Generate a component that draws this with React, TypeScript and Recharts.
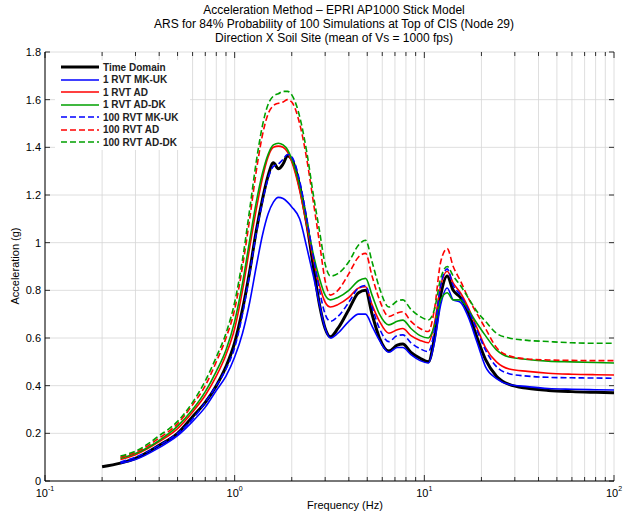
import React from "react";
import { LineChart, Line, XAxis, YAxis, CartesianGrid } from "recharts";

// frequency points (Hz)
const FREQ = [0.2, 0.25, 0.3, 0.4, 0.5, 0.6, 0.7, 0.8, 0.9, 1.0, 1.1, 1.2, 1.3, 1.4, 1.5, 1.6, 1.7, 1.8, 1.9, 2.0, 2.2, 2.4, 2.6, 2.8, 3.0, 3.2, 3.5, 4.0, 4.5, 4.9, 5.3, 5.8, 6.5, 7.2, 7.7, 8.5, 9.5, 10.5, 11.3, 12.2, 13.2, 14.2, 15.5, 17, 19, 21, 24, 28, 35, 45, 60, 80, 100];

const TIME_DOMAIN = [0.06, 0.075, 0.095, 0.15, 0.2, 0.27, 0.33, 0.4, 0.48, 0.58, 0.72, 0.88, 1.05, 1.18, 1.28, 1.335, 1.31, 1.33, 1.365, 1.35, 1.24, 1.08, 0.9, 0.74, 0.64, 0.605, 0.64, 0.72, 0.79, 0.8, 0.7, 0.6, 0.545, 0.57, 0.575, 0.54, 0.515, 0.5, 0.6, 0.78, 0.86, 0.8, 0.77, 0.71, 0.6, 0.51, 0.44, 0.405, 0.389, 0.38, 0.375, 0.372, 0.37];
const RVT1_MKUK = [null, 0.075, 0.09, 0.14, 0.19, 0.25, 0.31, 0.38, 0.44, 0.52, 0.62, 0.75, 0.9, 1.03, 1.12, 1.17, 1.19, 1.185, 1.17, 1.15, 1.1, 0.98, 0.86, 0.74, 0.64, 0.6, 0.62, 0.67, 0.7, 0.7, 0.65, 0.59, 0.54, 0.56, 0.56, 0.53, 0.505, 0.495, 0.58, 0.74, 0.81, 0.76, 0.75, 0.69, 0.58, 0.48, 0.43, 0.405, 0.396, 0.388, 0.385, 0.383, 0.382];
const RVT1_AD = [null, 0.09, 0.11, 0.165, 0.22, 0.29, 0.36, 0.44, 0.53, 0.64, 0.8, 0.98, 1.14, 1.27, 1.36, 1.4, 1.405, 1.4, 1.38, 1.34, 1.22, 1.07, 0.93, 0.82, 0.75, 0.73, 0.74, 0.77, 0.81, 0.815, 0.74, 0.67, 0.62, 0.635, 0.64, 0.61, 0.59, 0.58, 0.66, 0.82, 0.88, 0.83, 0.79, 0.73, 0.64, 0.56, 0.5, 0.47, 0.46, 0.452, 0.448, 0.446, 0.445];
const RVT1_ADDK = [null, 0.095, 0.115, 0.17, 0.23, 0.3, 0.375, 0.46, 0.55, 0.67, 0.83, 1.01, 1.17, 1.29, 1.37, 1.41, 1.417, 1.41, 1.39, 1.35, 1.24, 1.09, 0.95, 0.85, 0.78, 0.76, 0.77, 0.8, 0.84, 0.85, 0.78, 0.7, 0.655, 0.67, 0.675, 0.64, 0.61, 0.6, 0.65, 0.76, 0.79, 0.76, 0.76, 0.72, 0.66, 0.61, 0.55, 0.52, 0.51, 0.503, 0.5, 0.497, 0.495];
const RVT100_MKUK = [null, 0.08, 0.1, 0.15, 0.2, 0.26, 0.33, 0.4, 0.47, 0.56, 0.7, 0.87, 1.04, 1.17, 1.27, 1.32, 1.33, 1.35, 1.37, 1.36, 1.26, 1.1, 0.94, 0.8, 0.7, 0.67, 0.69, 0.75, 0.81, 0.82, 0.73, 0.64, 0.585, 0.61, 0.613, 0.58, 0.555, 0.543, 0.63, 0.82, 0.89, 0.82, 0.78, 0.72, 0.63, 0.55, 0.48, 0.45, 0.44, 0.435, 0.433, 0.432, 0.431];
const RVT100_AD = [null, 0.1, 0.12, 0.18, 0.24, 0.32, 0.4, 0.5, 0.6, 0.72, 0.9, 1.1, 1.3, 1.45, 1.54, 1.575, 1.585, 1.59, 1.6, 1.59, 1.5, 1.35, 1.17, 1.0, 0.84, 0.78, 0.8, 0.87, 0.94, 0.955, 0.86, 0.76, 0.69, 0.705, 0.71, 0.67, 0.64, 0.627, 0.72, 0.92, 0.975, 0.9, 0.84, 0.77, 0.7, 0.64, 0.56, 0.525, 0.512, 0.508, 0.506, 0.505, 0.505];
const RVT100_ADDK = [null, 0.105, 0.125, 0.19, 0.25, 0.33, 0.42, 0.52, 0.62, 0.75, 0.93, 1.14, 1.34, 1.49, 1.58, 1.615, 1.625, 1.635, 1.635, 1.62, 1.53, 1.38, 1.2, 1.05, 0.91, 0.86, 0.87, 0.92, 0.99, 1.01, 0.92, 0.81, 0.73, 0.755, 0.76, 0.72, 0.69, 0.676, 0.72, 0.85, 0.9, 0.86, 0.82, 0.77, 0.71, 0.67, 0.62, 0.6, 0.59, 0.585, 0.58, 0.578, 0.578];

const SERIES_NAMES = ["Time Domain", "1 RVT MK-UK", "1 RVT AD", "1 RVT AD-DK", "100 RVT MK-UK", "100 RVT AD", "100 RVT AD-DK"];
const SERIES_VALUES = [TIME_DOMAIN, RVT1_MKUK, RVT1_AD, RVT1_ADDK, RVT100_MKUK, RVT100_AD, RVT100_ADDK];
const SERIES_COLORS = ["#000000", "#0000ff", "#ff0000", "#00a000", "#0000ff", "#ff0000", "#00a000"];
const SERIES_DASHED = [false, false, false, false, true, true, true];
const SERIES_WIDTH = [3, 1.6, 1.6, 1.6, 1.6, 1.6, 1.6];

const X_TICKS = [0.1, 0.2, 0.3, 0.4, 0.5, 0.6, 0.7, 0.8, 0.9, 1, 2, 3, 4, 5, 6, 7, 8, 9, 10, 20, 30, 40, 50, 60, 70, 80, 90, 100];
const X_DECADES = [0.1, 1, 10, 100];
const X_EXPONENTS = ["-1", "0", "1", "2"];
const Y_TICKS = [0, 0.2, 0.4, 0.6, 0.8, 1, 1.2, 1.4, 1.6, 1.8];
const Y_TICK_LABELS = ["0", "0.2", "0.4", "0.6", "0.8", "1", "1.2", "1.4", "1.6", "1.8"];

const TITLE = [
  "Acceleration Method \u2013 EPRI AP1000 Stick Model",
  "ARS for 84% Probability of 100 Simulations at Top of CIS (Node 29)",
  "Direction X Soil Site (mean of Vs = 1000 fps)",
];

const FONT = "Arial, 'Liberation Sans', Helvetica, sans-serif";
const W = 632;
const H = 519;
const PLOT_LEFT = 45;
const PLOT_RIGHT = 614;
const PLOT_TOP = 52;
const PLOT_BOTTOM = 481;

const data = FREQ.map((f, i) => {
  const row: any = { f };
  SERIES_VALUES.forEach((vals, k) => {
    row["s" + k] = vals[i];
  });
  return row;
});

const XTick = (props: any) => {
  const { x, payload } = props;
  const v = payload.value;
  const d = X_DECADES.indexOf(v);
  const len = d >= 0 ? 6 : 4;
  return (
    <g>
      <line x1={x} x2={x} y1={PLOT_BOTTOM} y2={PLOT_BOTTOM - len} stroke="#000" strokeWidth={0.8} />
      <line x1={x} x2={x} y1={PLOT_TOP} y2={PLOT_TOP + len} stroke="#000" strokeWidth={0.8} />
      {d >= 0 && (
        <text x={x} y={PLOT_BOTTOM + 16} textAnchor="middle" fontSize={11} fontFamily={FONT} fill="#000">
          10
          <tspan dy={-6} fontSize={7}>
            {X_EXPONENTS[d]}
          </tspan>
        </text>
      )}
    </g>
  );
};

const YTick = (props: any) => {
  const { y, payload } = props;
  const i = Y_TICKS.indexOf(payload.value);
  return (
    <g>
      <line x1={PLOT_LEFT} x2={PLOT_LEFT + 5} y1={y} y2={y} stroke="#000" strokeWidth={0.8} />
      <line x1={PLOT_RIGHT} x2={PLOT_RIGHT - 5} y1={y} y2={y} stroke="#000" strokeWidth={0.8} />
      <text x={PLOT_LEFT - 4} y={y + 4} textAnchor="end" fontSize={11} fontFamily={FONT} fill="#000">
        {Y_TICK_LABELS[i]}
      </text>
    </g>
  );
};

export default function App() {
  return (
    <div style={{ position: "absolute", left: 0, top: 0, width: W, height: H, background: "#fff", fontFamily: FONT }}>
      {TITLE.map((t, i) => (
        <div
          key={i}
          style={{ position: "absolute", left: 0, width: W, top: 3 + i * 14, textAlign: "center", fontSize: 12, lineHeight: "14px", color: "#000", paddingLeft: 36, boxSizing: "border-box" }}
        >
          {t}
        </div>
      ))}
      <LineChart width={W} height={H} data={data} margin={{ top: PLOT_TOP, right: W - PLOT_RIGHT, bottom: 0, left: 0 }}>
        <CartesianGrid stroke="#d6d6d6" strokeWidth={0.8} />
        <XAxis
          dataKey="f"
          type="number"
          scale="log"
          domain={[0.1, 100]}
          ticks={X_TICKS}
          interval={0}
          allowDataOverflow
          height={H - PLOT_BOTTOM}
          axisLine={{ stroke: "#000" }}
          tickLine={false}
          tick={<XTick />}
        />
        <XAxis xAxisId="top" orientation="top" dataKey="f" type="number" scale="log" domain={[0.1, 100]} height={0} tick={false} tickLine={false} axisLine={{ stroke: "#000" }} />
        <YAxis
          type="number"
          domain={[0, 1.8]}
          ticks={Y_TICKS}
          interval={0}
          width={PLOT_LEFT}
          axisLine={{ stroke: "#000" }}
          tickLine={false}
          tick={<YTick />}
        />
        <YAxis yAxisId="right" orientation="right" width={0} domain={[0, 1.8]} tick={false} tickLine={false} axisLine={{ stroke: "#000" }} />
        {SERIES_NAMES.map((name, k) => (
          <Line
            key={name}
            name={name}
            dataKey={"s" + k}
            type="monotone"
            stroke={SERIES_COLORS[k]}
            strokeWidth={SERIES_WIDTH[k]}
            strokeDasharray={SERIES_DASHED[k] ? "6 3" : undefined}
            dot={false}
            isAnimationActive={false}
          />
        ))}
      </LineChart>
      <div style={{ position: "absolute", left: 55, top: 60, width: 135, background: "#fff", padding: "1px 0" }}>
        {SERIES_NAMES.map((name, k) => (
          <div key={name} style={{ display: "flex", alignItems: "center", height: 12.5 }}>
            <svg width={42} height={10} style={{ marginLeft: 4 }}>
              <line x1={2} x2={40} y1={5} y2={5} stroke={SERIES_COLORS[k]} strokeWidth={SERIES_WIDTH[k]} strokeDasharray={SERIES_DASHED[k] ? "6 3" : undefined} />
            </svg>
            <span style={{ fontSize: 10, fontWeight: "bold", color: "#222", marginLeft: 2, whiteSpace: "nowrap" }}>{name}</span>
          </div>
        ))}
      </div>
      <div style={{ position: "absolute", left: 0, width: W, top: 499, textAlign: "center", fontSize: 11, paddingLeft: 58, boxSizing: "border-box" }}>
        Frequency (Hz)
      </div>
      <div
        style={{ position: "absolute", left: 15, top: 266, fontSize: 11, whiteSpace: "nowrap", transform: "translate(-50%, -50%) rotate(-90deg)" }}
      >
        Acceleration (g)
      </div>
    </div>
  );
}
